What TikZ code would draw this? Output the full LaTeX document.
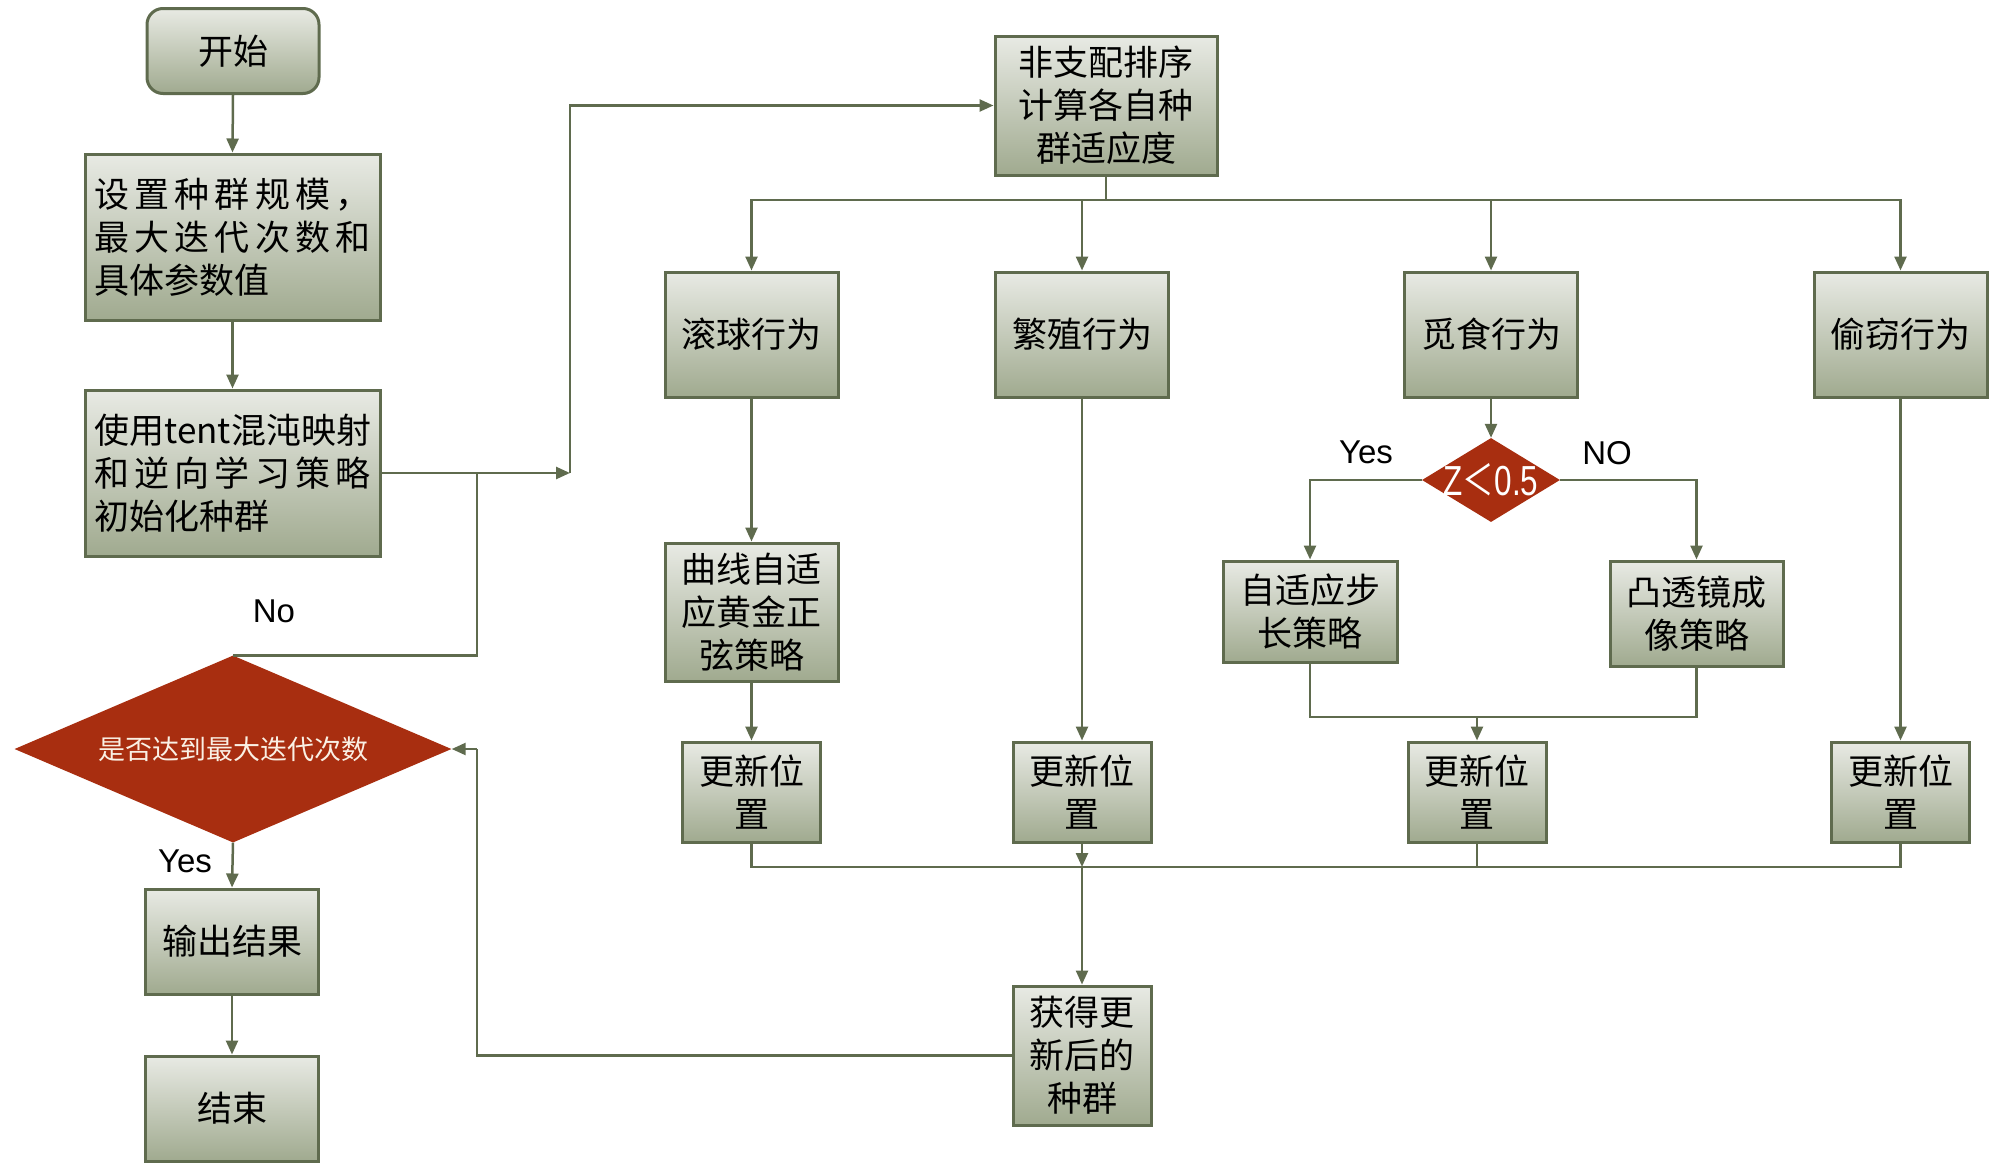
\documentclass[tikz,border=0pt]{standalone}
\usepackage{fontspec}
\usepackage{graphicx}
\setmainfont{Liberation Sans}
\newfontfamily\cjk{Noto Sans CJK SC}
\usetikzlibrary{arrows.meta,shapes.geometric,calc}
\definecolor{lc}{RGB}{95,107,78}
\definecolor{btop}{RGB}{232,234,228}
\definecolor{bbot}{RGB}{160,170,143}
\definecolor{dred}{RGB}{168,46,16}
\definecolor{dtxt}{RGB}{250,240,228}
\begin{document}
\begin{tikzpicture}[x=1pt,y=-1pt,
  box/.style={draw=lc, line width=3pt, top color=btop, bottom color=bbot,
    inner sep=0pt, align=center, text=black,
    font=\cjk\fontsize{35}{43}\selectfont},
  dia/.style={diamond, fill=dred, draw=none, inner sep=0pt},
  ln/.style={draw=lc, line width=2.5pt},
  arr/.style={ln, -{Triangle[length=14pt,width=12pt]}},
  lab/.style={font=\fontsize{33}{38}\selectfont, text=black, inner sep=0pt}
]
\useasboundingbox (0,0) rectangle (2000,1170);

% left column
\node[box, rounded corners=16pt, minimum width=172pt, minimum height=85pt] (start) at (233,51) {开始};
\node[box, minimum width=295pt, minimum height=166pt, text width=276pt, align=left] (set) at (232.5,237)
  {\makebox[276pt][s]{设\hfill 置\hfill 种\hfill 群\hfill 规\hfill 模\hfill ，}\\
   \makebox[276pt][s]{最\hfill 大\hfill 迭\hfill 代\hfill 次\hfill 数\hfill 和}\\
   具体参数值};
\node[box, minimum width=295pt, minimum height=166pt, text width=276pt, align=left] (tent) at (232.5,473)
  {使用tent混沌映射\\
   \makebox[276pt][s]{和\hfill 逆\hfill 向\hfill 学\hfill 习\hfill 策\hfill 略}\\
   初始化种群};
\node[dia, minimum width=437pt, minimum height=187pt, text=dtxt, font=\cjk\fontsize{27}{32}\selectfont] (dec) at (233,749)
  {\makebox[0pt]{是否达到最大迭代次数}};
\node[box, minimum width=173pt, minimum height=105pt] (out) at (232,941.5) {输出结果};
\node[box, minimum width=173pt, minimum height=105pt] (fin) at (232,1108.5) {结束};

% top
\node[box, minimum width=222pt, minimum height=139pt] (nsort) at (1106,105.5) {非支配排序\\计算各自种\\群适应度};

% behaviours
\node[box, minimum width=173pt, minimum height=125pt] (roll) at (751.5,334.5) {滚球行为};
\node[box, minimum width=173pt, minimum height=125pt] (breed) at (1082,334.5) {繁殖行为};
\node[box, minimum width=173pt, minimum height=125pt] (forage) at (1491,334.5) {觅食行为};
\node[box, minimum width=173pt, minimum height=125pt] (steal) at (1900.5,334.5) {偷窃行为};

\node[box, minimum width=173pt, minimum height=138pt] (curve) at (751.5,612) {曲线自适\\应黄金正\\弦策略};
\node[dia, minimum width=138pt, minimum height=84pt, text=white] (zdec) at (1491,480)
  {\makebox[0pt]{\scalebox{0.75}[1]{\fontsize{42}{46}\selectfont Z{\cjk ＜}0.5}}};
\node[box, minimum width=174pt, minimum height=101pt] (adapt) at (1310,611.5) {自适应步\\长策略};
\node[box, minimum width=173pt, minimum height=105pt] (lens) at (1696.5,613.5) {凸透镜成\\像策略};

\node[box, minimum width=138pt, minimum height=100pt] (upd1) at (751.5,792) {更新位\\置};
\node[box, minimum width=138pt, minimum height=100pt] (upd2) at (1082,792) {更新位\\置};
\node[box, minimum width=138pt, minimum height=100pt] (upd3) at (1477,792) {更新位\\置};
\node[box, minimum width=138pt, minimum height=100pt] (upd4) at (1900.5,792) {更新位\\置};

\node[box, minimum width=138pt, minimum height=139pt] (got) at (1082,1055.5) {获得更\\新后的\\种群};

% labels
\node[lab] (lno) at (274,611) {No};
\node[lab] (lyes) at (185,861) {Yes};
\node[lab] (zyes) at (1366,452) {Yes};
\node[lab] (zno) at (1607,453) {NO};

% coordinates
\coordinate (c1) at (570,473);
\coordinate (j1) at (477,473);
\coordinate (c2) at (477,749);
\coordinate (bus) at (1106,200);
\coordinate (m1) at (1477,717);
\coordinate (m2) at (1082,867);

% connectors
\draw[arr] (start.south) -- (set.north);
\draw[arr] (set.south) -- (tent.north);
\draw[arr] (tent.east) -- (c1);
\draw[arr] (c1) |- (nsort.west);
\draw[ln] (j1) |- (dec.north);
\draw[ln] (nsort.south) -- (bus);
\draw[arr] (bus) -| (roll.north);
\draw[arr] (bus) -| (breed.north);
\draw[arr] (bus) -| (forage.north);
\draw[arr] (bus) -| (steal.north);
\draw[arr] (roll.south) -- (curve.north);
\draw[arr] (curve.south) -- (upd1.north);
\draw[arr] (breed.south) -- (upd2.north);
\draw[arr] (forage.south) -- (zdec.north);
\draw[arr] (zdec.west) -| (adapt.north);
\draw[arr] (zdec.east) -| (lens.north);
\draw[ln] (adapt.south) |- (m1) -| (lens.south);
\draw[arr] (m1) -- (upd3.north);
\draw[arr] (steal.south) -- (upd4.north);
\draw[ln] (upd1.south) |- (m2) -| (upd4.south);
\draw[ln] (upd3.south) -- (upd3.south |- m2);
\draw[arr] (upd2.south) -- (m2);
\draw[arr] (m2) -- (got.north);
\draw[ln] (got.west) -| (c2);
\draw[arr] (c2) -- (dec.east);
\draw[arr] (dec.south) -- (out.north);
\draw[arr] (out.south) -- (fin.north);
\end{tikzpicture}
\end{document}
